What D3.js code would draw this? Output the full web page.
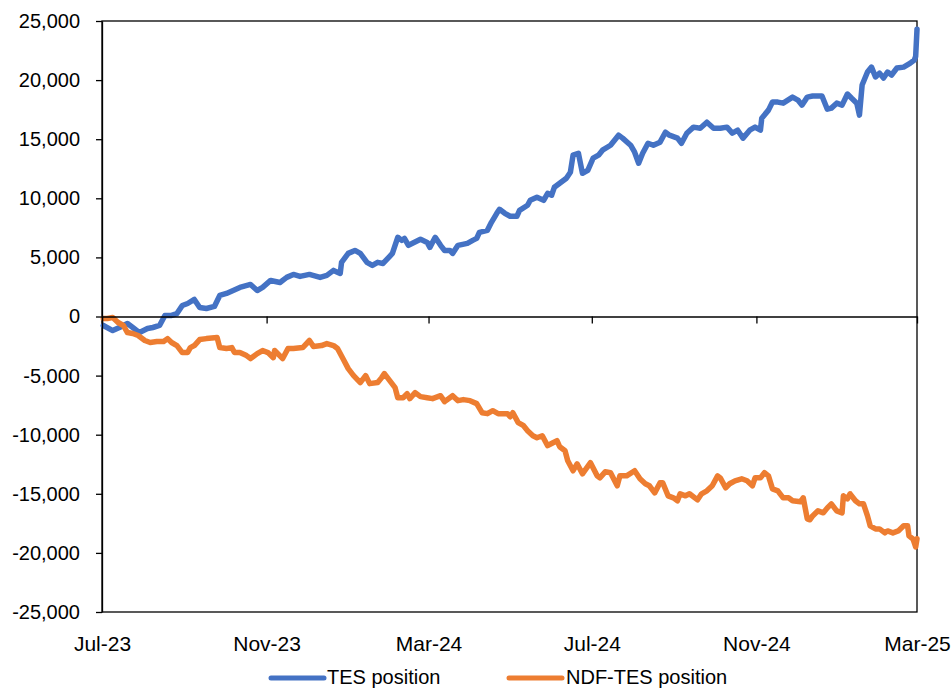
<!DOCTYPE html>
<html>
<head>
<meta charset="utf-8">
<script src="https://cdn.jsdelivr.net/npm/d3@7"></script>
<style>
  html, body { margin: 0; padding: 0; background: #fff; }
  svg { display: block; font-family: "Liberation Sans", Arial, sans-serif; }
</style>
</head>
<body>
<svg id="chart" width="951" height="689"></svg>
<script>
// Daily positions (COP bn), July 2023 – March 2025
const tesDates = [
  "2023-07-02","2023-07-09","2023-07-14","2023-07-20","2023-07-24","2023-07-29","2023-08-04","2023-08-08",
  "2023-08-13","2023-08-17","2023-08-22","2023-08-26","2023-08-30","2023-09-03","2023-09-08","2023-09-12",
  "2023-09-17","2023-09-23","2023-09-27","2023-10-02","2023-10-07","2023-10-12","2023-10-20","2023-10-25",
  "2023-10-29","2023-11-04","2023-11-11","2023-11-16","2023-11-21","2023-11-26","2023-12-03","2023-12-11",
  "2023-12-16","2023-12-21","2023-12-26","2023-12-27","2024-01-01","2024-01-06","2024-01-10","2024-01-15",
  "2024-01-19","2024-01-23","2024-01-27","2024-02-01","2024-02-03","2024-02-07","2024-02-10","2024-02-12",
  "2024-02-15","2024-02-18","2024-02-24","2024-02-29","2024-03-02","2024-03-06","2024-03-10","2024-03-13",
  "2024-03-17","2024-03-19","2024-03-23","2024-03-30","2024-04-03","2024-04-06","2024-04-08","2024-04-14",
  "2024-04-17","2024-04-21","2024-04-23","2024-04-27","2024-05-01","2024-05-06","2024-05-08","2024-05-14",
  "2024-05-16","2024-05-21","2024-05-26","2024-05-29","2024-06-01","2024-06-03","2024-06-07","2024-06-12",
  "2024-06-15","2024-06-17","2024-06-21","2024-06-24","2024-06-28","2024-07-02","2024-07-06","2024-07-09",
  "2024-07-15","2024-07-21","2024-07-24","2024-07-30","2024-08-02","2024-08-05","2024-08-08","2024-08-12",
  "2024-08-16","2024-08-21","2024-08-25","2024-08-28","2024-09-03","2024-09-06","2024-09-10","2024-09-15",
  "2024-09-20","2024-09-25","2024-09-30","2024-10-05","2024-10-10","2024-10-14","2024-10-18","2024-10-22",
  "2024-10-27","2024-10-31","2024-11-04","2024-11-05","2024-11-10","2024-11-13","2024-11-17","2024-11-21",
  "2024-11-28","2024-12-02","2024-12-05","2024-12-09","2024-12-13","2024-12-20","2024-12-24","2024-12-27",
  "2024-12-31","2025-01-04","2025-01-08","2025-01-11","2025-01-15","2025-01-17","2025-01-19","2025-01-23",
  "2025-01-26","2025-01-29","2025-02-01","2025-02-04","2025-02-07","2025-02-10","2025-02-14","2025-02-19",
  "2025-02-24","2025-02-27","2025-02-28","2025-03-01"
];
const tesValues = [
  -760,-1190,-930,-590,-930,-1360,-1020,-930,
  -760,90,90,250,930,1100,1440,760,
  680,850,1780,1950,2200,2460,2710,2200,
  2460,3050,2880,3310,3560,3390,3560,3310,
  3480,3900,3640,4580,5340,5590,5340,4580,
  4320,4580,4490,5090,5340,6700,6440,6610,
  6020,6190,6530,6270,5850,6700,6020,5590,
  5590,5340,6020,6190,6440,6610,7120,7290,
  7970,8730,9070,8730,8480,8480,8980,9410,
  9830,10090,9830,10420,10260,10930,11270,11700,
  12200,13650,13810,12120,12370,13390,13650,14070,
  14490,15340,15090,14490,13900,12970,13810,14660,
  14490,14750,15590,15340,15090,14660,15510,16020,
  15930,16440,15930,15930,16020,15510,15760,15090,
  15760,16020,15760,16780,17460,18140,18140,18050,
  18560,18310,17880,18560,18650,18650,17540,17630,
  18050,17880,18820,18480,18050,17040,19580,20680,
  21100,20260,20590,20170,20680,20430,21020,21100,
  21440,21700,22000,24300
];

const ndfDates = [
  "2023-07-02","2023-07-05","2023-07-09","2023-07-13","2023-07-17","2023-07-20","2023-07-24","2023-07-28",
  "2023-08-02","2023-08-06","2023-08-11","2023-08-16","2023-08-19","2023-08-22","2023-08-26","2023-08-30",
  "2023-09-03","2023-09-05","2023-09-08","2023-09-12","2023-09-17","2023-09-25","2023-09-27","2023-10-02",
  "2023-10-06","2023-10-08","2023-10-12","2023-10-17","2023-10-20","2023-10-25","2023-10-29","2023-11-02",
  "2023-11-06","2023-11-07","2023-11-13","2023-11-17","2023-11-21","2023-11-28","2023-12-03","2023-12-06",
  "2023-12-12","2023-12-16","2023-12-21","2023-12-24","2023-12-28","2024-01-01","2024-01-05","2024-01-10",
  "2024-01-14","2024-01-17","2024-01-23","2024-01-26","2024-01-28","2024-02-01","2024-02-05","2024-02-07",
  "2024-02-11","2024-02-14","2024-02-16","2024-02-20","2024-02-24","2024-02-29","2024-03-04","2024-03-10",
  "2024-03-13","2024-03-19","2024-03-23","2024-03-27","2024-04-01","2024-04-06","2024-04-10","2024-04-14",
  "2024-04-18","2024-04-22","2024-04-29","2024-05-01","2024-05-03","2024-05-07","2024-05-11","2024-05-14",
  "2024-05-18","2024-05-21","2024-05-25","2024-05-29","2024-06-02","2024-06-05","2024-06-07","2024-06-11",
  "2024-06-13","2024-06-17","2024-06-20","2024-06-24","2024-06-30","2024-07-05","2024-07-07","2024-07-11",
  "2024-07-15","2024-07-20","2024-07-22","2024-07-27","2024-08-02","2024-08-06","2024-08-10","2024-08-13",
  "2024-08-17","2024-08-21","2024-08-23","2024-08-27","2024-08-31","2024-09-03","2024-09-05","2024-09-09",
  "2024-09-12","2024-09-18","2024-09-21","2024-09-25","2024-09-29","2024-10-03","2024-10-05","2024-10-09",
  "2024-10-12","2024-10-16","2024-10-21","2024-10-25","2024-10-29","2024-10-31","2024-11-04","2024-11-07",
  "2024-11-10","2024-11-13","2024-11-17","2024-11-21","2024-11-25","2024-11-28","2024-12-04","2024-12-06",
  "2024-12-09","2024-12-11","2024-12-13","2024-12-17","2024-12-21","2024-12-24","2024-12-27","2024-12-31",
  "2025-01-04","2025-01-05","2025-01-08","2025-01-10","2025-01-14","2025-01-17","2025-01-20","2025-01-23",
  "2025-01-25","2025-01-29","2025-02-01","2025-02-05","2025-02-07","2025-02-11","2025-02-15","2025-02-19",
  "2025-02-22","2025-02-23","2025-02-26","2025-02-28","2025-03-01"
];
const ndfValues = [
  -170,-170,-90,-510,-760,-1360,-1440,-1610,
  -2030,-2200,-2120,-2120,-1870,-2200,-2460,-3050,
  -3050,-2630,-2460,-1950,-1870,-1780,-2630,-2710,
  -2630,-3050,-3050,-3310,-3560,-3140,-2880,-3050,
  -3480,-2880,-3560,-2710,-2710,-2630,-2030,-2540,
  -2460,-2290,-2460,-2710,-3560,-4410,-5000,-5590,
  -5000,-5680,-5590,-5170,-4830,-5420,-6020,-6870,
  -6870,-6530,-6950,-6440,-6780,-6870,-6950,-6700,
  -7200,-6700,-7120,-7030,-7120,-7370,-8140,-8220,
  -7970,-8220,-8220,-8480,-8140,-8980,-9240,-9660,
  -10090,-10260,-10090,-10930,-10680,-10510,-11020,-11360,
  -12200,-13050,-12460,-13310,-12370,-13480,-13650,-13140,
  -13220,-14320,-13480,-13480,-13050,-13730,-14150,-14320,
  -14920,-14070,-14070,-15170,-15340,-15590,-15000,-15170,
  -15000,-15510,-15000,-14750,-14320,-13480,-13650,-14490,
  -14150,-13900,-13730,-13900,-14320,-13650,-13650,-13220,
  -13480,-14580,-14750,-15340,-15340,-15590,-15680,-15340,
  -17120,-17200,-16870,-16440,-16610,-16190,-15850,-16440,
  -16610,-15170,-15430,-15000,-15590,-15850,-15850,-16870,
  -17710,-17970,-17970,-18310,-18140,-18310,-18140,-17710,
  -17710,-18560,-18820,-19500,-18800
];

const seriesNames = ["TES position", "NDF-TES position"];
const seriesColors = ["#4472C4", "#ED7D31"];
const yTickValues = [-25000, -20000, -15000, -10000, -5000, 0, 5000, 10000, 15000, 20000, 25000];
const xTickDates = ["2023-07-01","2023-11-01","2024-03-01","2024-07-01","2024-11-01","2025-03-01"];
const xTickLabels = ["Jul-23","Nov-23","Mar-24","Jul-24","Nov-24","Mar-25"];

const parse = d3.utcParse("%Y-%m-%d");
const fmt = d3.formatLocale({decimal: ".", thousands: ",", grouping: [3], currency: ["", ""], minus: "-"}).format(",");

const svg = d3.select("#chart");
const plot = {left: 102, top: 21, right: 917, bottom: 612};

const x = d3.scaleUtc()
  .domain([parse(xTickDates[0]), parse(xTickDates[xTickDates.length - 1])])
  .range([plot.left, plot.right]);
const y = d3.scaleLinear()
  .domain([-25000, 25000])
  .range([plot.bottom, plot.top]);

// plot frame
svg.append("rect")
  .attr("x", plot.left).attr("y", plot.top)
  .attr("width", plot.right - plot.left).attr("height", plot.bottom - plot.top)
  .attr("fill", "none").attr("stroke", "#000").attr("stroke-width", 1.3);

// series lines
const line = d3.line().x(d => x(d[0])).y(d => y(d[1]));
const series = [
  d3.zip(tesDates.map(parse), tesValues),
  d3.zip(ndfDates.map(parse), ndfValues)
];
svg.append("g").selectAll("path")
  .data(series)
  .join("path")
  .attr("d", line)
  .attr("fill", "none")
  .attr("stroke", (d, i) => seriesColors[i])
  .attr("stroke-width", 5.5)
  .attr("stroke-linejoin", "round")
  .attr("stroke-linecap", "round");

// y axis
const yAxis = svg.append("g")
  .attr("transform", `translate(${plot.left},0)`)
  .call(d3.axisLeft(y).tickValues(yTickValues).tickFormat(fmt).tickSize(6).tickSizeOuter(0).tickPadding(16));
yAxis.select(".domain").attr("stroke-width", 1.3);
yAxis.selectAll(".tick line").attr("stroke-width", 1.3);
yAxis.selectAll("text").attr("font-size", 20).attr("fill", "#000")
  .style("font-family", '"Liberation Sans", Arial, sans-serif');

// zero line with date ticks
const zeroAxis = svg.append("g")
  .attr("transform", `translate(0,${y(0)})`)
  .call(d3.axisBottom(x).tickValues(xTickDates.map(parse)).tickFormat("").tickSize(7).tickSizeOuter(0));
zeroAxis.select(".domain").attr("stroke-width", 1.6);
zeroAxis.selectAll(".tick line").attr("stroke-width", 1.3);

// date labels along the bottom
const dateAxis = svg.append("g")
  .attr("transform", `translate(0,${plot.bottom})`)
  .call(d3.axisBottom(x).tickValues(xTickDates.map(parse))
    .tickFormat((d, i) => xTickLabels[i]).tickSize(0).tickPadding(24));
dateAxis.select(".domain").remove();
dateAxis.selectAll("text").attr("font-size", 21).attr("fill", "#000")
  .style("font-family", '"Liberation Sans", Arial, sans-serif');

// legend
const legendItems = [{x: 271, tx: 327}, {x: 509, tx: 566}];
const legend = svg.append("g");
legendItems.forEach((item, i) => {
  legend.append("line")
    .attr("x1", item.x).attr("x2", item.x + 53)
    .attr("y1", 678).attr("y2", 678)
    .attr("stroke", seriesColors[i]).attr("stroke-width", 5)
    .attr("stroke-linecap", "round");
  legend.append("text")
    .attr("x", item.tx).attr("y", 684)
    .attr("font-size", 20).attr("fill", "#000")
    .text(seriesNames[i]);
});
</script>
</body>
</html>
